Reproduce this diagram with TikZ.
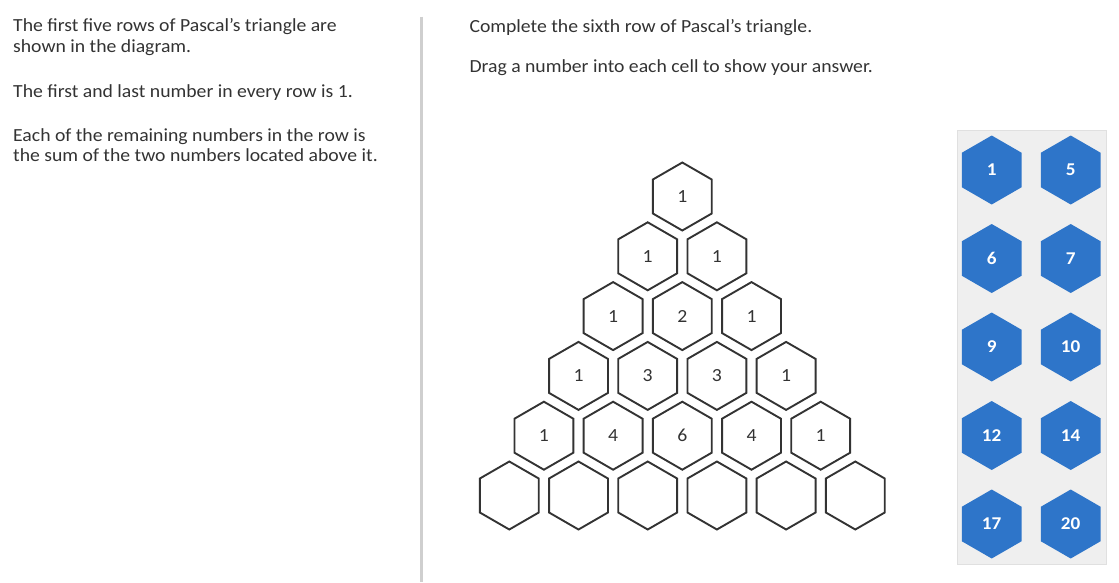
\documentclass[tikz,border=0pt]{standalone}
\usepackage{fontspec}
\setmainfont{Carlito}[FakeStretch=1.065]
\usetikzlibrary{shapes.geometric}
\definecolor{ink}{HTML}{333333}
\definecolor{tileblue}{HTML}{2E75C9}
\definecolor{panelgray}{HTML}{EFEFEF}
\definecolor{paneledge}{HTML}{E0E0E0}
\definecolor{divgray}{HTML}{CFCFCF}
\begin{document}
\begin{tikzpicture}[x=1pt,y=-1pt,
  txt/.style={anchor=base west, inner sep=0pt, text=ink, font=\fontsize{18.5}{20}\selectfont},
  cell/.style={regular polygon, regular polygon sides=6, shape border rotate=30,
    minimum size=68pt, inner sep=0pt, draw=ink, line width=1.9pt, text=ink,
    font=\fontsize{18.5}{20}\selectfont},
  tile/.style={regular polygon, regular polygon sides=6, shape border rotate=30,
    minimum size=69pt, inner sep=0pt, fill=tileblue, text=white,
    font=\fontsize{18}{20}\selectfont\bfseries},
  panel/.style={fill=panelgray, draw=paneledge, line width=0.8pt, inner sep=0pt}]
\useasboundingbox (0,0) rectangle (1119,582);
% divider
\coordinate (divtop) at (421.7,16.7);
\coordinate (divbot) at (421.7,582);
\draw[divgray, line width=2.5pt] (divtop) -- (divbot);
% left text
\node[txt] (l1) at (13,31.5) {The first five rows of Pascal’s triangle are};
\node[txt] (l2) at (13,52) {shown in the diagram.};
\node[txt] (l3) at (13,97.8) {The first and last number in every row is 1.};
\node[txt] (l4) at (13,141.3) {Each of the remaining numbers in the row is};
\node[txt] (l5) at (13,161.3) {the sum of the two numbers located above it.};
% right text
\node[txt] (r1) at (469.3,32) {Complete the sixth row of Pascal’s triangle.};
\node[txt] (r2) at (469.3,72.5) {Drag a number into each cell to show your answer.};
% triangle
\def\cx{682.3}\def\dx{69.2}\def\apexy{196.5}\def\dy{59.8}
\foreach \r/\list in {0/{1},1/{1,1},2/{1,2,1},3/{1,3,3,1},4/{1,4,6,4,1}}
  \foreach \v [count=\k from 0] in \list
    \node[cell] (c\r\k) at ({\cx+(\k-\r/2)*\dx},{\apexy+\r*\dy}) {\v};
\foreach \k in {0,...,5}
  \node[cell] (c5\k) at ({\cx+(\k-2.5)*\dx},{\apexy+5*\dy}) {};
% palette
\node[panel, minimum width=149pt, minimum height=434pt] (panel) at (1031.5,347) {};
\foreach \v [count=\i from 0] in {1,6,9,12,17}
  \node[tile] (tile\v) at (991.7,{170+\i*88.5}) {\v};
\foreach \v [count=\i from 0] in {5,7,10,14,20}
  \node[tile] (tile\v) at (1070.7,{170+\i*88.5}) {\v};
\end{tikzpicture}
\end{document}
